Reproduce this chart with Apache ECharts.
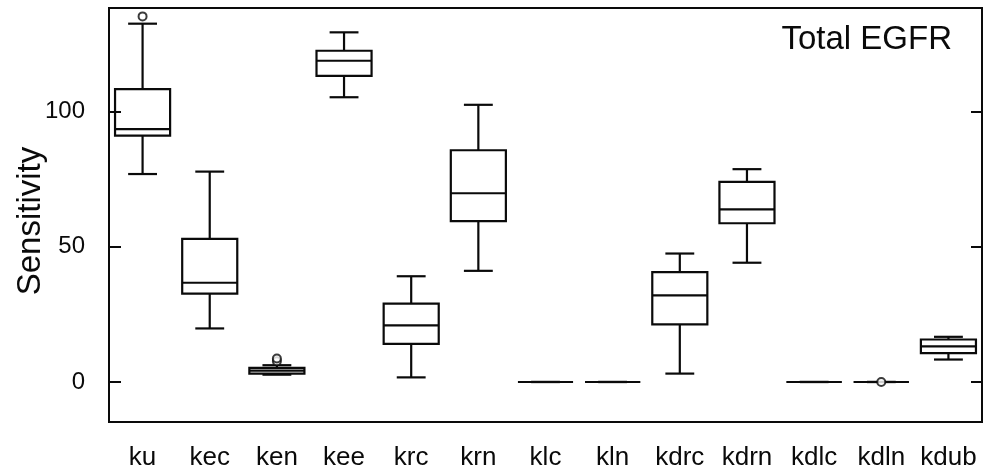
<!DOCTYPE html>
<html>
<head>
<meta charset="utf-8">
<script src="https://cdn.jsdelivr.net/npm/echarts@6/dist/echarts.min.js"></script>
<style>
  html, body { margin: 0; padding: 0; background: #fff; }
  #chart { width: 985px; height: 468px; }
</style>
</head>
<body>
<div id="chart"></div>
<script>
// Box statistics per condition
const categories = ['ku', 'kec', 'ken', 'kee', 'krc', 'krn', 'klc', 'kln', 'kdrc', 'kdrn', 'kdlc', 'kdln', 'kdub'];
const whiskerLow = [76.9, 19.8, 2.7, 105.3, 1.7, 41.1, 0, 0, 3.1, 44.1, 0, 0, 8.3];
const quartile1  = [91.1, 32.7, 3.1, 113.2, 14.1, 59.5, 0, 0, 21.3, 58.7, 0, 0, 10.7];
const medians    = [93.5, 36.7, 4.2, 118.8, 20.9, 69.8, 0, 0, 32.0, 63.8, 0, 0, 13.2];
const quartile3  = [108.3, 52.9, 5.2, 122.5, 29.0, 85.7, 0, 0, 40.6, 74.0, 0, 0, 15.7];
const whiskerHigh = [132.5, 77.8, 6.2, 129.3, 39.1, 102.5, 0, 0, 47.5, 78.7, 0, 0, 16.7];
// Outliers as [category index, value]
const outliers = [[0, 135.2], [2, 7.7], [2, 8.7], [11, 0]];
const yTicks = [0, 50, 100];

const boxData = categories.map((c, i) => [i, whiskerLow[i], quartile1[i], medians[i], quartile3[i], whiskerHigh[i]]);

const ink = '#0a0a0a';
const font = 'Liberation Sans, Arial, Helvetica, sans-serif';
const lw = 2.2;

function renderBox(params, api) {
  const i = api.value(0);
  const band = api.size([1, 0])[0];
  const cx = api.coord([i, 0])[0];
  const bw = band * 0.82;
  const cw = band * 0.43;
  const y = k => api.coord([i, api.value(k)])[1];
  const lo = y(1), q1 = y(2), md = y(3), q3 = y(4), hi = y(5);
  const st = { stroke: ink, lineWidth: lw, fill: null };
  const ln = (x1, y1, x2, y2) => ({ type: 'line', shape: { x1, y1, x2, y2 }, style: st });
  return {
    type: 'group',
    children: [
      ln(cx, hi, cx, q3),
      ln(cx, q1, cx, lo),
      ln(cx - cw / 2, hi, cx + cw / 2, hi),
      ln(cx - cw / 2, lo, cx + cw / 2, lo),
      { type: 'rect', shape: { x: cx - bw / 2, y: q3, width: bw, height: q1 - q3 }, style: { stroke: ink, lineWidth: lw, fill: 'transparent' } },
      ln(cx - bw / 2, md, cx + bw / 2, md)
    ]
  };
}

const yMin = -14.8, yMax = 138.3;

const chart = echarts.init(document.getElementById('chart'), null, { renderer: 'canvas' });
chart.setOption({
  animation: false,
  backgroundColor: '#fff',
  title: {
    text: 'Total EGFR',
    right: 28,
    top: 18,
    textStyle: { fontFamily: font, fontSize: 33, fontWeight: 'normal', color: ink }
  },
  grid: {
    left: 109, right: 3, top: 8, bottom: 46,
    outerBoundsMode: 'none',
    containLabel: false,
    show: true, borderColor: ink, borderWidth: 2, backgroundColor: 'transparent'
  },
  xAxis: {
    type: 'category',
    data: categories,
    boundaryGap: true,
    axisLine: { show: true, onZero: false, lineStyle: { color: ink, width: 2 } },
    axisTick: { show: false },
    axisLabel: { color: ink, fontFamily: font, fontSize: 26, margin: 23, interval: 0 },
    splitLine: { show: false }
  },
  yAxis: [
    {
      type: 'value',
      min: yMin, max: yMax,
      name: 'Sensitivity',
      nameLocation: 'middle',
      nameGap: 62,
      nameMoveOverlap: false,
      nameTextStyle: { fontFamily: font, fontSize: 33, color: ink, padding: [0, 12, 0, 0] },
      axisLine: { show: true, lineStyle: { color: ink, width: 2 } },
      axisTick: { show: true, inside: true, length: 12, customValues: yTicks, lineStyle: { color: ink, width: 2 } },
      axisLabel: { color: ink, fontFamily: font, fontSize: 24, margin: 24, customValues: yTicks },
      splitLine: { show: false }
    },
    {
      type: 'value',
      position: 'right',
      min: yMin, max: yMax,
      axisLine: { show: true, lineStyle: { color: ink, width: 2 } },
      axisTick: { show: true, inside: true, length: 11, customValues: yTicks, lineStyle: { color: ink, width: 2 } },
      axisLabel: { show: false },
      splitLine: { show: false }
    }
  ],
  series: [
    {
      type: 'custom',
      renderItem: renderBox,
      encode: { x: 0, y: [1, 2, 3, 4, 5] },
      data: boxData,
      z: 2
    },
    {
      type: 'scatter',
      data: outliers,
      symbol: 'circle',
      symbolSize: 8,
      itemStyle: { color: '#fff', borderColor: ink, borderWidth: 2 },
      z: 3
    }
  ]
});
</script>
</body>
</html>
